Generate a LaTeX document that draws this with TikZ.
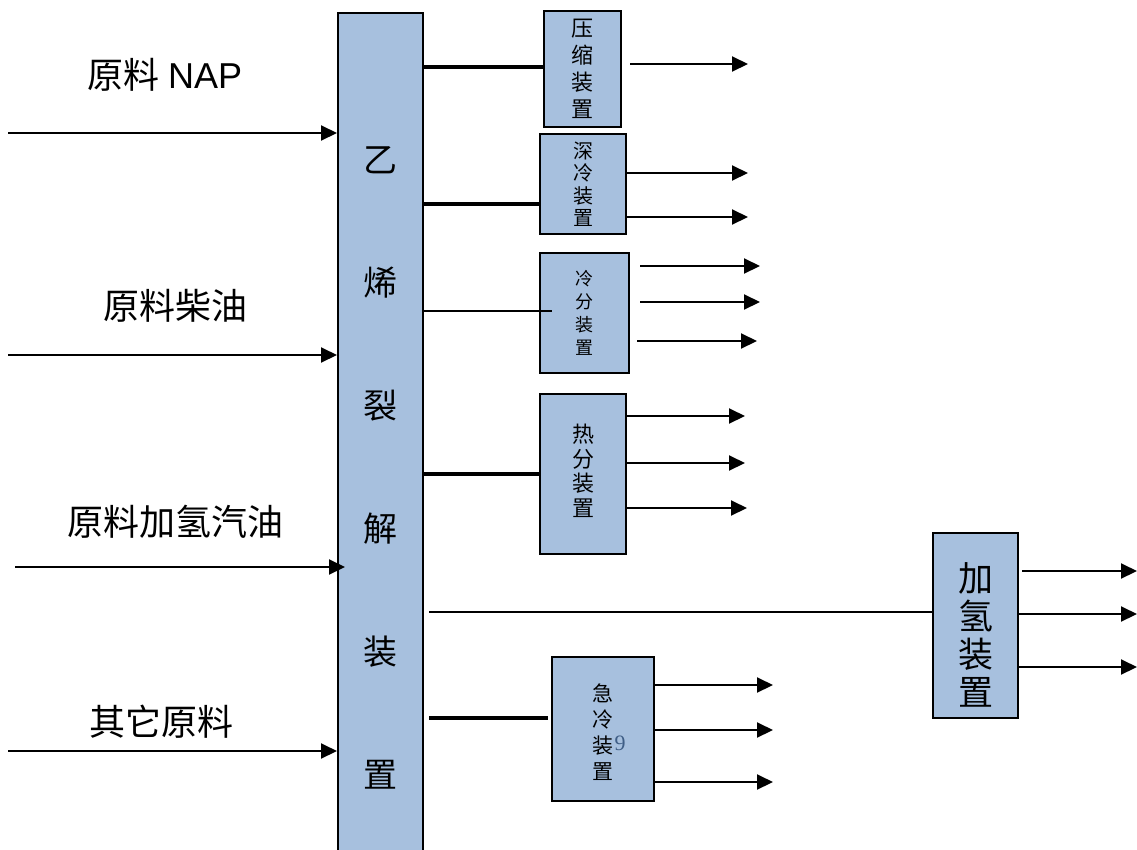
\documentclass[tikz,border=0pt]{standalone}
\usepackage{fontspec}
\setmainfont{Liberation Sans}
\newfontfamily\cjk{Noto Sans CJK SC}
\newfontfamily\serifnum{Liberation Serif}
\usetikzlibrary{arrows.meta}
\definecolor{boxblue}{HTML}{A7C0DE}
\definecolor{ninecol}{HTML}{3F5E86}
\tikzset{
  unit/.style={draw=black, fill=boxblue, line width=2pt, inner sep=0pt, anchor=north west},
  arr/.style={line width=2pt, -{Triangle[length=16pt,width=15pt]}},
  feed/.style={line width=3.2pt},
  thinfeed/.style={line width=2pt},
  lbl/.style={font=\cjk\fontsize{36}{40}\selectfont, inner sep=0pt},
  vt/.style 2 args={align=center, inner sep=0pt, font=\cjk\fontsize{#1}{#2}\selectfont},
}
\begin{document}
\begin{tikzpicture}[x=1pt,y=-1pt]
\useasboundingbox (0,0) rectangle (1137,849);
% main cracking unit
\node[unit, minimum width=85, minimum height=845] (main) at (337,12) {};
\node[vt={34}{123}] (maintxt) at (380,468) {乙\\烯\\裂\\解\\装\\置};
% feed labels
\node[lbl] (l1) at (165,75) {原料 {\rmfamily NAP}};
\node[lbl] (l2) at (175,306) {原料柴油};
\node[lbl] (l3) at (175,522) {原料加氢汽油};
\node[lbl] (l4) at (161,722) {其它原料};
% feed arrows
\coordinate (f1) at (8,133);
\coordinate (f2) at (8,355);
\coordinate (f3) at (15,567);
\coordinate (f4) at (8,751);
\draw[arr] (f1) -- (f1 -| main.west);
\draw[arr] (f2) -- (f2 -| main.west);
\draw[arr] (f3) -- ([xshift=8pt]f3 -| main.west);
\draw[arr] (f4) -- (f4 -| main.west);
% downstream units
\node[unit, minimum width=77, minimum height=116] (ys) at (543,10) {};
\node[vt={22}{27}] at (ys.center) {压\\缩\\装\\置};
\node[unit, minimum width=86, minimum height=100] (sl) at (539,133) {};
\node[vt={20}{22.5}] at (sl.center) {深\\冷\\装\\置};
\node[unit, minimum width=89, minimum height=120] (lf) at (539,252) {};
\node[vt={18}{23}] at (lf.center) {冷\\分\\装\\置};
\node[unit, minimum width=86, minimum height=160] (rf) at (539,393) {};
\node[vt={22}{24.5}] at ([yshift=3pt]rf.center) {热\\分\\装\\置};
\node[unit, minimum width=85, minimum height=185] (jq) at (932,532) {};
\node[vt={35}{38}] at ([yshift=-9pt]jq.center) {加\\氢\\装\\置};
\node[unit, minimum width=102, minimum height=144] (jl) at (551,656) {};
\node[vt={21}{26}] (jltxt) at ([yshift=-3pt]jl.center) {急\\冷\\装\\置};
\node[text=ninecol, font=\serifnum\fontsize{22}{22}\selectfont, inner sep=0pt] (nine) at (620,743) {9};
% connectors from main unit
\draw[feed] (main.east |- 0,67) -- (ys.west |- 0,67);
\draw[feed] (main.east |- 0,204) -- (sl.west |- 0,204);
\draw[thinfeed] (main.east |- 0,311) -- ([xshift=13pt]lf.west |- 0,311);
\draw[feed] ([xshift=-2pt]main.east |- 0,474) -- (rf.west |- 0,474);
\draw[thinfeed] ([xshift=5pt]main.east |- 0,612) -- (jq.west |- 0,612);
\draw[feed] ([xshift=5pt]main.east |- 0,718) -- ([xshift=-3pt]jl.west |- 0,718);
% outputs
\coordinate (o1) at (748,64);
\draw[arr] ([xshift=8pt]ys.east |- o1) -- (o1);
\coordinate (o2) at (748,173);
\coordinate (o3) at (748,217);
\draw[arr] (sl.east |- o2) -- (o2);
\draw[arr] (sl.east |- o3) -- (o3);
\coordinate (o4) at (760,266);
\coordinate (o5) at (760,302);
\coordinate (o6) at (757,341);
\draw[arr] ([xshift=10pt]lf.east |- o4) -- (o4);
\draw[arr] ([xshift=10pt]lf.east |- o5) -- (o5);
\draw[arr] ([xshift=7pt]lf.east |- o6) -- (o6);
\coordinate (o7) at (745,416);
\coordinate (o8) at (745,463);
\coordinate (o9) at (747,508);
\draw[arr] (rf.east |- o7) -- (o7);
\draw[arr] (rf.east |- o8) -- (o8);
\draw[arr] (rf.east |- o9) -- (o9);
\coordinate (o10) at (1137,571);
\coordinate (o11) at (1137,614);
\coordinate (o12) at (1137,667);
\draw[arr] ([xshift=3pt]jq.east |- o10) -- (o10);
\draw[arr] (jq.east |- o11) -- (o11);
\draw[arr] (jq.east |- o12) -- (o12);
\coordinate (o13) at (773,685);
\coordinate (o14) at (773,730);
\coordinate (o15) at (773,782);
\draw[arr] (jl.east |- o13) -- (o13);
\draw[arr] (jl.east |- o14) -- (o14);
\draw[arr] (jl.east |- o15) -- (o15);
\end{tikzpicture}
\end{document}
